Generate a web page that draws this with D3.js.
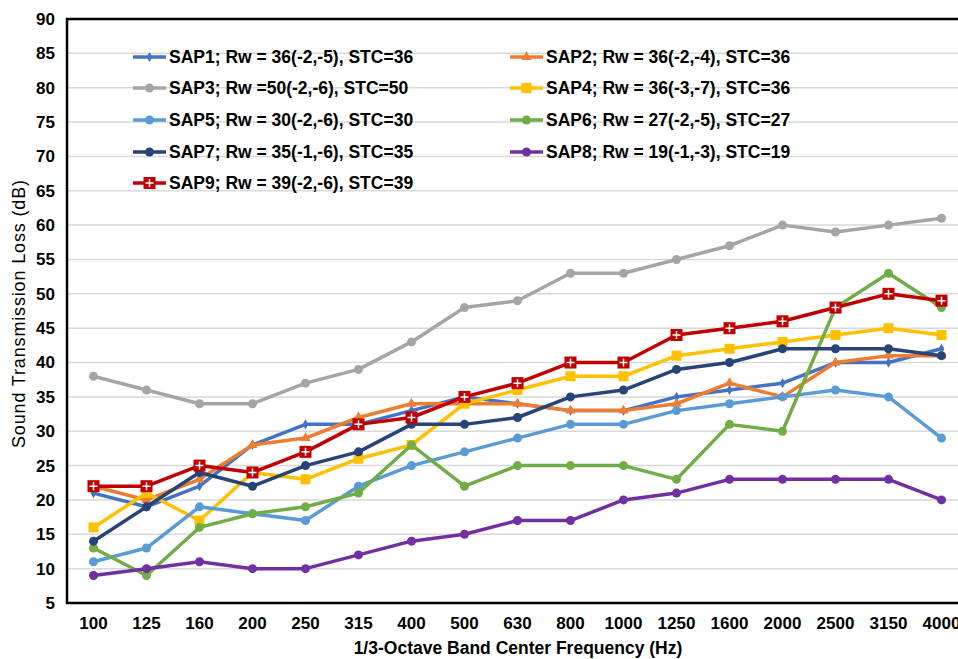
<!DOCTYPE html>
<html>
<head>
<meta charset="utf-8">
<script src="https://cdn.jsdelivr.net/npm/d3@7"></script>
<style>
  html, body { margin: 0; padding: 0; background: #fff; }
  svg { display: block; }
  text { font-family: "Liberation Sans", Arial, sans-serif; }
</style>
</head>
<body>
<svg id="chart" width="958" height="659"></svg>
<script>
// 1/3-octave band centre frequencies (Hz)
const frequencies = ["100","125","160","200","250","315","400","500","630","800","1000","1250","1600","2000","2500","3150","4000"];

// Sound transmission loss (dB) for each specimen
const sap1 = [21,19,22,28,31,31,33,35,34,33,33,35,36,37,40,40,42];
const sap2 = [22,20,23,28,29,32,34,34,34,33,33,34,37,35,40,41,41];
const sap3 = [38,36,34,34,37,39,43,48,49,53,53,55,57,60,59,60,61];
const sap4 = [16,21,17,24,23,26,28,34,36,38,38,41,42,43,44,45,44];
const sap5 = [11,13,19,18,17,22,25,27,29,31,31,33,34,35,36,35,29];
const sap6 = [13,9,16,18,19,21,28,22,25,25,25,23,31,30,48,53,48];
const sap7 = [14,19,24,22,25,27,31,31,32,35,36,39,40,42,42,42,41];
const sap8 = [9,10,11,10,10,12,14,15,17,17,20,21,23,23,23,23,20];
const sap9 = [22,22,25,24,27,31,32,35,37,40,40,44,45,46,48,50,49];

const seriesNames = [
  "SAP1; Rw = 36(-2,-5), STC=36",
  "SAP2; Rw = 36(-2,-4), STC=36",
  "SAP3; Rw =50(-2,-6), STC=50",
  "SAP4; Rw = 36(-3,-7), STC=36",
  "SAP5; Rw = 30(-2,-6), STC=30",
  "SAP6; Rw = 27(-2,-5), STC=27",
  "SAP7; Rw = 35(-1,-6), STC=35",
  "SAP8; Rw = 19(-1,-3), STC=19",
  "SAP9; Rw = 39(-2,-6), STC=39"
];
const seriesValues = [sap1, sap2, sap3, sap4, sap5, sap6, sap7, sap8, sap9];
const seriesColors = ["#4472C4","#ED7D31","#A5A5A5","#FFC000","#5B9BD5","#70AD47","#264478","#7030A0","#C00000"];
const seriesMarkers = ["diamond","triangle","circle","square","circle","circle","circle","circle","plusSquare"];

const yTicks = d3.range(5, 91, 5);

const svg = d3.select("#chart");
svg.append("rect").attr("width", 958).attr("height", 659).attr("fill", "#fff");

const plot = { left: 67, top: 19, right: 968, bottom: 603 };

const x = d3.scaleBand().domain(frequencies).range([plot.left, plot.right]);
const y = d3.scaleLinear().domain([5, 90]).range([plot.bottom, plot.top]);

// horizontal gridlines
svg.append("g")
  .selectAll("line")
  .data(yTicks)
  .join("line")
  .attr("x1", plot.left).attr("x2", plot.right)
  .attr("y1", d => y(d)).attr("y2", d => y(d))
  .attr("stroke", "#d9d9d9").attr("stroke-width", 1.5);

// y axis labels
const yAxis = d3.axisLeft(y).tickValues(yTicks).tickSize(0).tickPadding(12);
svg.append("g")
  .attr("transform", `translate(${plot.left},0)`)
  .call(yAxis)
  .call(g => g.select(".domain").remove())
  .call(g => g.selectAll("text")
    .attr("font-family", "Liberation Sans, Arial, sans-serif")
    .attr("font-size", 17).attr("font-weight", "bold").attr("fill", "#000"));

// x axis labels
const xAxis = d3.axisBottom(x).tickSize(0).tickPadding(14);
svg.append("g")
  .attr("transform", `translate(0,${plot.bottom})`)
  .call(xAxis)
  .call(g => g.select(".domain").remove())
  .call(g => g.selectAll("text")
    .attr("font-family", "Liberation Sans, Arial, sans-serif")
    .attr("font-size", 17).attr("font-weight", "bold").attr("fill", "#000"));

// plot frame
svg.append("rect")
  .attr("x", plot.left).attr("y", plot.top)
  .attr("width", plot.right - plot.left).attr("height", plot.bottom - plot.top)
  .attr("fill", "none").attr("stroke", "#000").attr("stroke-width", 2.5);

// axis titles
svg.append("text")
  .attr("x", 518).attr("y", 654)
  .attr("text-anchor", "middle")
  .attr("font-size", 17.5).attr("font-weight", "bold")
  .text("1/3-Octave Band Center Frequency (Hz)");

svg.append("text")
  .attr("transform", "translate(25,314) rotate(-90)")
  .attr("text-anchor", "middle")
  .attr("font-size", 18)
  .attr("textLength", 268).attr("lengthAdjust", "spacing")
  .text("Sound Transmission Loss (dB)");

// marker drawing
function drawMarker(g, type, color, cx, cy) {
  if (type === "circle") {
    g.append("circle").attr("cx", cx).attr("cy", cy).attr("r", 4.5).attr("fill", color);
  } else if (type === "square") {
    g.append("rect").attr("x", cx - 5).attr("y", cy - 5).attr("width", 10).attr("height", 10).attr("fill", color);
  } else if (type === "diamond") {
    g.append("path").attr("d", d3.symbol(d3.symbolDiamond, 30)()).attr("transform", `translate(${cx},${cy})`).attr("fill", color);
  } else if (type === "triangle") {
    g.append("path").attr("d", d3.symbol(d3.symbolTriangle, 45)()).attr("transform", `translate(${cx},${cy})`).attr("fill", color);
  } else if (type === "plusSquare") {
    g.append("rect").attr("x", cx - 6).attr("y", cy - 6).attr("width", 12).attr("height", 12).attr("fill", color);
    g.append("path").attr("d", `M${cx - 4},${cy}H${cx + 4}M${cx},${cy - 4}V${cy + 4}`)
      .attr("stroke", "#fff").attr("stroke-width", 1.5);
  }
}

const line = d3.line()
  .x((d, i) => x(frequencies[i]) + x.bandwidth() / 2)
  .y(d => y(d));

const seriesG = svg.append("g");
seriesValues.forEach((vals, s) => {
  const g = seriesG.append("g");
  g.append("path")
    .attr("d", line(vals))
    .attr("fill", "none")
    .attr("stroke", seriesColors[s])
    .attr("stroke-width", 3.5)
    .attr("stroke-linejoin", "round");
  vals.forEach((v, i) => drawMarker(g, seriesMarkers[s], seriesColors[s], x(frequencies[i]) + x.bandwidth() / 2, y(v)));
});

// legend: two columns, filled row by row
const legend = svg.append("g");
const legendCols = [133, 510];
const legendRows = [57, 88, 120, 152, 183];
seriesNames.forEach((name, s) => {
  const lx = legendCols[s % 2];
  const ly = legendRows[Math.floor(s / 2)];
  const g = legend.append("g");
  g.append("line")
    .attr("x1", lx).attr("x2", lx + 33)
    .attr("y1", ly).attr("y2", ly)
    .attr("stroke", seriesColors[s]).attr("stroke-width", 3.5);
  drawMarker(g, seriesMarkers[s], seriesColors[s], lx + 16.5, ly);
  g.append("text")
    .attr("x", lx + 36).attr("y", ly + 6)
    .attr("font-size", 17.5).attr("font-weight", "bold").attr("fill", "#000")
    .text(name);
});
</script>
</body>
</html>
